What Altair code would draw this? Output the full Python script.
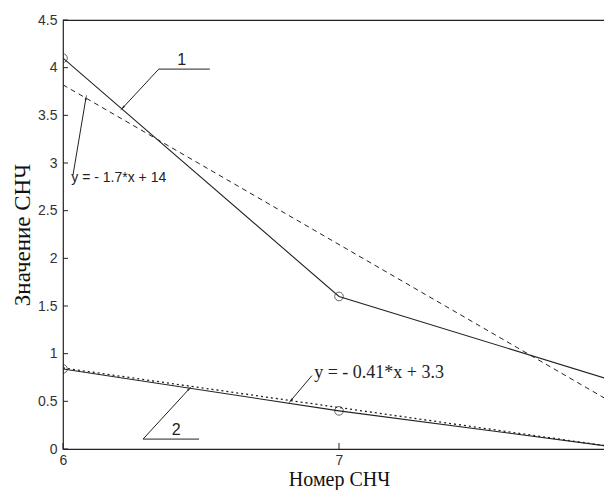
import math
import altair as alt
import pandas as pd

# ---- data ----
x_vals = [6, 7, 8]
series1 = [4.10, 1.60, 0.71]
series2 = [0.84, 0.40, 0.02]
fit_x = [6, 8]
fit1 = [3.82, 0.47]
fit2 = [0.85, 0.02]

x_ticks = [6, 7, 8]
x_tick_labels = [6, 7]
y_ticks = [0, 0.5, 1, 1.5, 2, 2.5, 3, 3.5, 4, 4.5]

# annotations (data coordinates)
eq1_text = "y = - 1.7*x + 14"
eq1_pos = (6.03, 2.84)
eq1_arrow = (6.036, 2.87, 6.083, 3.68)
eq2_text = "y = - 0.41*x + 3.3"
eq2_pos = (6.91, 0.80)
eq2_arrow = (6.902, 0.77, 6.826, 0.51)
lab1_text = "1"
lab1_pos = (6.43, 4.08)
lab1_under = (6.347, 3.985, 6.532, 3.985)
lab1_arrow = (6.347, 3.985, 6.217, 3.58)
lab2_text = "2"
lab2_pos = (6.41, 0.20)
lab2_under = (6.29, 0.104, 6.493, 0.104)
lab2_arrow = (6.29, 0.104, 6.457, 0.63)

W, H = 552, 429
XD, YD = [6, 8], [0, 4.5]
PX_X = W / (XD[1] - XD[0])
PX_Y = H / (YD[1] - YD[0])

xs = alt.Scale(domain=XD, nice=False, zero=False)
ys = alt.Scale(domain=YD, nice=False, zero=False)

lines_df = pd.DataFrame({
    "x": x_vals * 2,
    "y": series1 + series2,
    "s": ["1"] * 3 + ["2"] * 3,
})
fit1_df = pd.DataFrame({"x": fit_x, "y": fit1})
fit2_df = pd.DataFrame({"x": fit_x, "y": fit2})
pts_df = pd.DataFrame({"x": x_vals * 2, "y": series1 + series2})

INK = "#222222"

base_lines = alt.Chart(lines_df).mark_line(color=INK, strokeWidth=1.1, clip=True).encode(
    x=alt.X("x:Q", scale=xs, axis=alt.Axis(
        values=x_tick_labels, format="~g", ticks=False, domain=False, grid=False,
        title="Номер СНЧ",
        labelFont="Liberation Sans", labelFontSize=14, labelColor="#333333",
        labelPadding=4, labelFlush=False,
        titleFont="Liberation Serif", titleFontSize=20, titleFontWeight="normal",
        titleColor="#111111", titleY=36, titleBaseline="alphabetic")),
    y=alt.Y("y:Q", scale=ys, axis=alt.Axis(
        values=y_ticks, format="~g", ticks=False, domain=False, grid=False,
        title="Значение СНЧ",
        labelFont="Liberation Sans", labelFontSize=14, labelColor="#333333",
        labelPadding=6, labelFlush=False,
        titleFont="Liberation Serif", titleFontSize=23, titleFontWeight="normal",
        titleColor="#111111", titleX=-41, titleY=H / 2, titleAngle=270,
        titleAlign="center", titleBaseline="middle")),
    detail="s:N",
)

fit1_line = alt.Chart(fit1_df).mark_line(color=INK, strokeWidth=1, strokeDash=[5, 4], clip=True).encode(
    x=alt.X("x:Q", scale=xs), y=alt.Y("y:Q", scale=ys))
fit2_line = alt.Chart(fit2_df).mark_line(color=INK, strokeWidth=1.3, strokeDash=[2, 3], clip=True).encode(
    x=alt.X("x:Q", scale=xs), y=alt.Y("y:Q", scale=ys))

points = alt.Chart(pts_df).mark_point(shape="circle", filled=False, color=INK, size=75,
                                       strokeWidth=1, clip=True).encode(
    x=alt.X("x:Q", scale=xs), y=alt.Y("y:Q", scale=ys))

# inward tick marks (MATLAB style)
xt_df = pd.DataFrame({"v": x_ticks})
yt_df = pd.DataFrame({"v": y_ticks})
ticks_bottom = alt.Chart(xt_df).mark_rule(color=INK, strokeWidth=1).encode(
    x=alt.X("v:Q", scale=xs), y=alt.value(H), y2=alt.value(H - 6))
ticks_left = alt.Chart(yt_df).mark_rule(color=INK, strokeWidth=1).encode(
    y=alt.Y("v:Q", scale=ys), x=alt.value(0), x2=alt.value(5))
ticks_right = alt.Chart(yt_df).mark_rule(color=INK, strokeWidth=1).encode(
    y=alt.Y("v:Q", scale=ys), x=alt.value(W), x2=alt.value(W - 6))


def seg(x0, y0, x1, y1):
    df = pd.DataFrame({"x": [x0], "y": [y0], "x2": [x1], "y2": [y1]})
    return alt.Chart(df).mark_rule(color=INK, strokeWidth=1).encode(
        x=alt.X("x:Q", scale=xs), y=alt.Y("y:Q", scale=ys), x2="x2:Q", y2="y2:Q")


def arrow(x0, y0, x1, y1):
    dx = (x1 - x0) * PX_X
    dy = -(y1 - y0) * PX_Y
    ang = math.degrees(math.atan2(dx, -dy)) % 360
    head = alt.Chart(pd.DataFrame({"x": [x1], "y": [y1]})).mark_point(
        shape="wedge", filled=True, color=INK, size=50, angle=ang, opacity=1).encode(
        x=alt.X("x:Q", scale=xs), y=alt.Y("y:Q", scale=ys))
    return seg(x0, y0, x1, y1) + head


def label(txt, pos, font, size, align="left"):
    df = pd.DataFrame({"x": [pos[0]], "y": [pos[1]], "t": [txt]})
    return alt.Chart(df).mark_text(font=font, fontSize=size, color=INK, align=align,
                                   baseline="middle").encode(
        x=alt.X("x:Q", scale=xs), y=alt.Y("y:Q", scale=ys), text="t:N")


layers = [
    base_lines, fit1_line, fit2_line, points,
    ticks_bottom, ticks_left, ticks_right,
    label(eq1_text, eq1_pos, "Liberation Sans", 14),
    arrow(*eq1_arrow),
    label(eq2_text, eq2_pos, "Liberation Serif", 18),
    arrow(*eq2_arrow),
    label(lab1_text, lab1_pos, "Liberation Sans", 16, "center"),
    seg(*lab1_under),
    arrow(*lab1_arrow),
    label(lab2_text, lab2_pos, "Liberation Sans", 16, "center"),
    seg(*lab2_under),
    arrow(*lab2_arrow),
]

chart = alt.layer(*layers).properties(
    width=W, height=H,
    autosize=alt.AutoSizeParams(type="none"),
    padding={"left": 55, "top": 12, "right": -11, "bottom": 41},
    background="white",
).configure_view(stroke="#222222", strokeWidth=1.2)

chart.save("out.html", embed_options={"renderer": "svg", "actions": False})
